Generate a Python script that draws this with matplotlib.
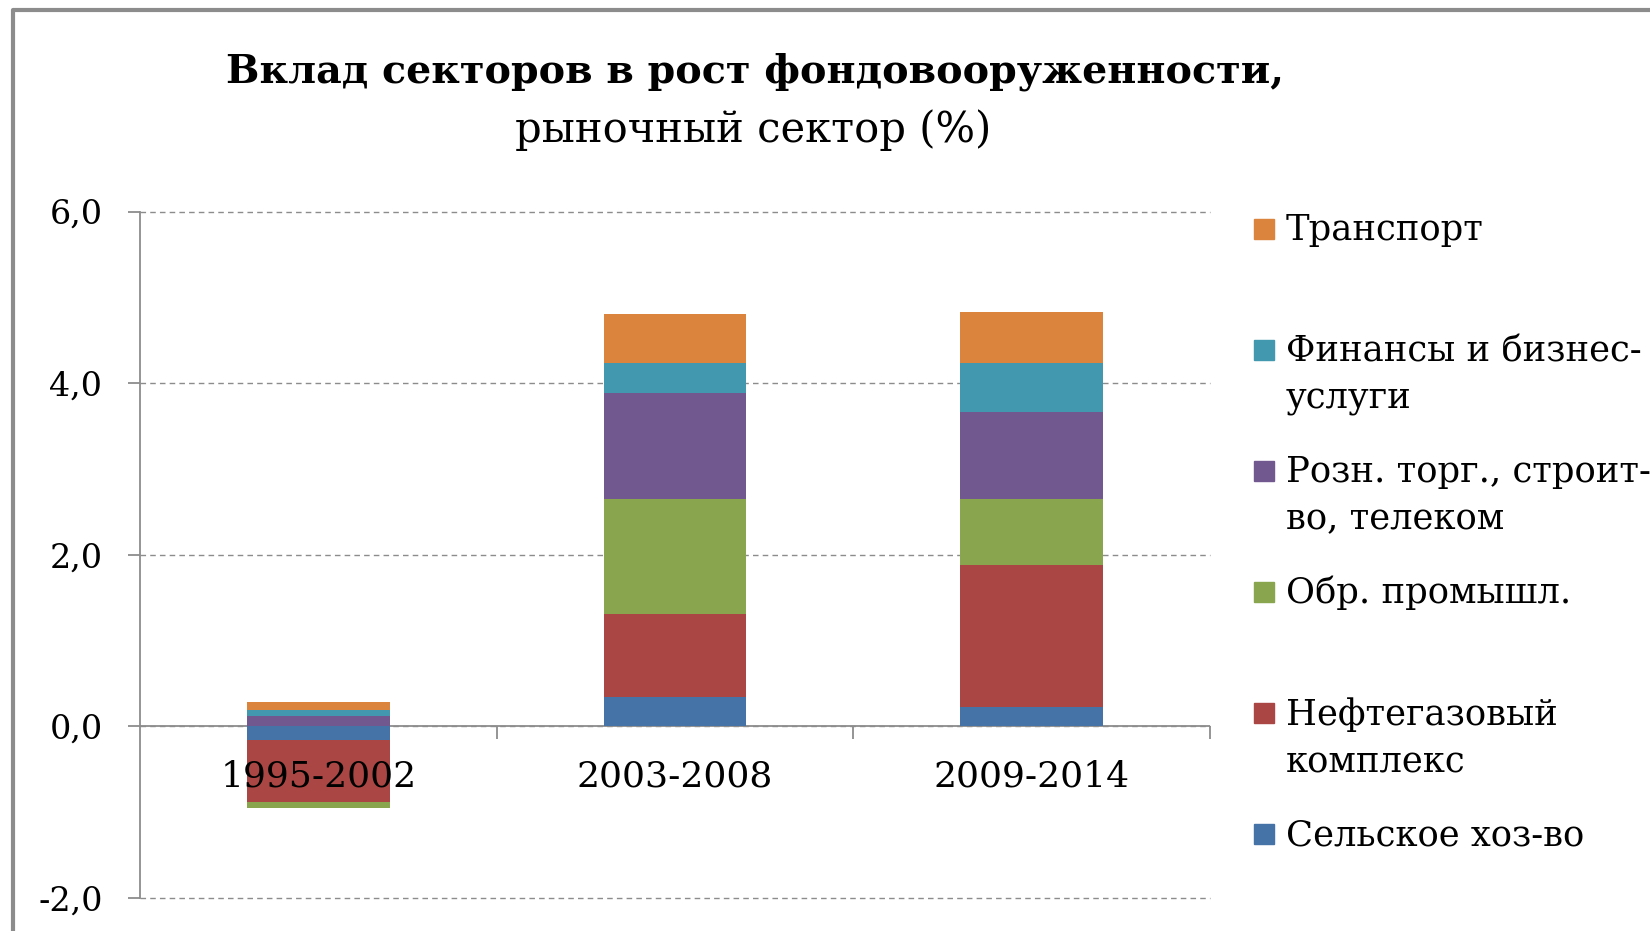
import matplotlib
matplotlib.use('Agg')
import matplotlib.pyplot as plt
from matplotlib.patches import Rectangle
from matplotlib.lines import Line2D
from matplotlib.ticker import FuncFormatter
import numpy as np

plt.rcParams['font.family'] = ['DejaVu Serif']

# data
periods = ['1995-2002', '2003-2008', '2009-2014']
sectors = ['Сельское хоз-во', 'Нефтегазовый\nкомплекс', 'Обр. промышл.',
           'Розн. торг., строит-\nво, телеком', 'Финансы и бизнес-\nуслуги', 'Транспорт']
agri = [-0.16, 0.34, 0.23]
oilgas = [-0.72, 0.97, 1.65]
manuf = [-0.07, 1.34, 0.77]
retail = [0.12, 1.24, 1.01]
finance = [0.07, 0.34, 0.57]
transport = [0.09, 0.57, 0.60]
colors = ['#4572A7', '#AA4643', '#89A54E', '#71588F', '#4198AF', '#DB843D']

series = [agri, oilgas, manuf, retail, finance, transport]

W, H = 1650, 931
fig = plt.figure(figsize=(W / 100, H / 100), dpi=100)
ax = fig.add_axes([140 / W, 1 - 898 / H, (1210 - 140) / W, (898 - 211.5) / H])

x = np.arange(len(periods))
pos_base = np.zeros(len(periods))
neg_base = np.zeros(len(periods))
for vals, c in zip(series, colors):
    v = np.array(vals)
    base = np.where(v >= 0, pos_base, neg_base)
    ax.bar(x, v, width=0.4, bottom=base, color=c, zorder=2)
    pos_base = pos_base + np.where(v >= 0, v, 0)
    neg_base = neg_base + np.where(v < 0, v, 0)

ax.set_xlim(-0.5, 2.5)
ax.set_ylim(-2, 6)
ax.set_yticks([-2, 0, 2, 4, 6])
ax.yaxis.set_major_formatter(FuncFormatter(lambda v, p: f'{v:.1f}'.replace('.', ',')))
ax.set_axisbelow(True)
ax.yaxis.grid(True, linestyle=(0, (4, 3)), color='#8c8c8c', linewidth=1)
for gl in ax.yaxis.get_gridlines():
    gl.set_clip_on(False)
ax.axhline(0, color='#8c8c8c', linewidth=1.3, zorder=0.6)

for s in ['top', 'right', 'bottom']:
    ax.spines[s].set_visible(False)
ax.spines['left'].set_color('#8c8c8c')
ax.spines['left'].set_linewidth(1.3)
ax.tick_params(axis='y', length=9, color='#8c8c8c', width=1.3, labelsize=24, pad=18)

ax.spines['bottom'].set_position(('data', 0))
ax.set_xticks(x)
ax.set_xticklabels(periods)
ax.set_xticks([0.5, 1.5, 2.5], minor=True)
ax.tick_params(axis='x', which='major', length=0, labelsize=26, pad=24)
ax.tick_params(axis='x', which='minor', length=9, color='#8c8c8c', width=1.3)
ax.xaxis.set_zorder(5)

# titles
fig.text(755 / W, 1 - 72 / H, 'Вклад секторов в рост фондовооруженности,',
         ha='center', va='center', fontsize=28.5, fontweight='bold')
fig.text(753 / W, 1 - 130 / H, 'рыночный сектор (%)',
         ha='center', va='center', fontsize=30)

# legend, top entry first
step = 121
for i, (name, c) in enumerate(zip(sectors[::-1], colors[::-1])):
    yc = 229 + i * step
    fig.patches.append(Rectangle(((1264 - 10) / W, 1 - (yc + 10) / H), 20 / W, 20 / H,
                                 transform=fig.transFigure, color=c, figure=fig))
    fig.text(1286 / W, 1 - (yc - 16) / H, name, ha='left', va='top',
             fontsize=25.5, linespacing=1.5)

# chart frame
fig.add_artist(Line2D([13 / W, 13 / W, 1], [0, 1 - 10 / H, 1 - 10 / H],
                      transform=fig.transFigure, color='#8c8c8c', linewidth=3))

fig.savefig('out.png', dpi=100)
